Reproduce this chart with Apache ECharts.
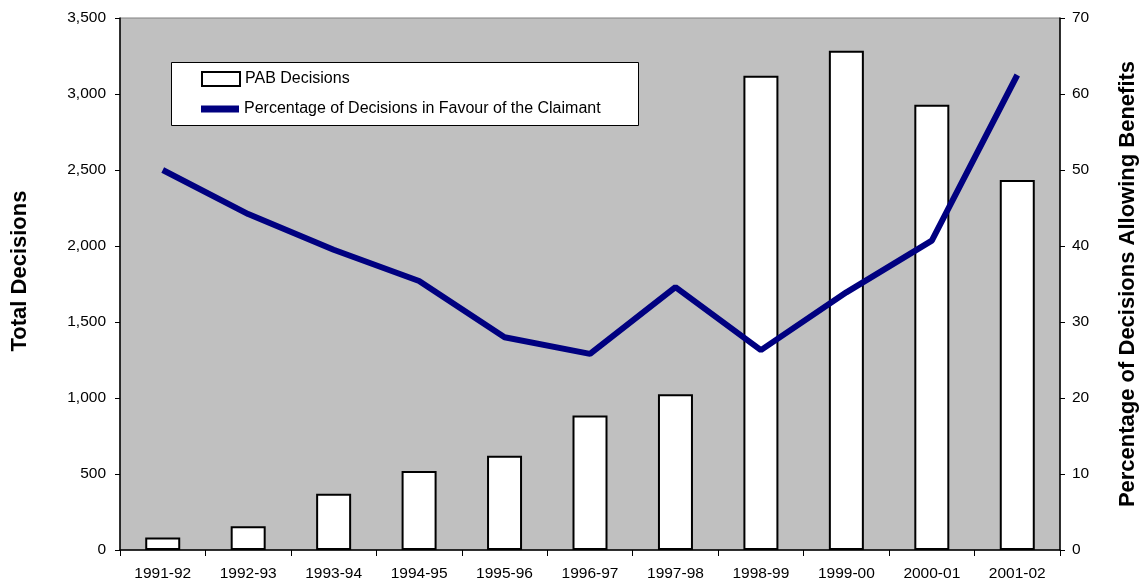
<!DOCTYPE html>
<html>
<head>
<meta charset="utf-8">
<script src="https://cdn.jsdelivr.net/npm/echarts@6/dist/echarts.min.js"></script>
<style>
  html, body { margin: 0; padding: 0; background: #fff; }
  #chart { width: 1139px; height: 582px; }
</style>
</head>
<body>
<div id="chart"></div>
<script>
const years = ["1991-92", "1992-93", "1993-94", "1994-95", "1995-96", "1996-97",
  "1997-98", "1998-99", "1999-00", "2000-01", "2001-02"];
const pabDecisions = [82, 157, 370, 520, 620, 885, 1025, 3120, 3285, 2930, 2435];
const pctFavour = [50.0, 44.2, 39.5, 35.4, 28.0, 25.8, 34.6, 26.3, 33.9, 40.7, 62.5];

var myChart = echarts.init(document.getElementById("chart"));

const font = "Arial, 'Liberation Sans', sans-serif";
const legendText = { fontSize: 16, fontFamily: font, color: "#000" };

let option = {
  animation: false,
  textStyle: { fontFamily: font, color: "#000" },
  grid: {
    left: 120,
    right: 79,
    top: 18,
    bottom: 32,
    outerBoundsMode: "none",
    containLabel: false,
    show: true,
    backgroundColor: "#c0c0c0",
    borderColor: "#808080",
    borderWidth: 1,
  },
  // white legend box
  graphic: [
    {
      type: "rect",
      left: 171,
      top: 62,
      z: 1,
      shape: { width: 467, height: 63 },
      style: { fill: "#fff", stroke: "#000", lineWidth: 1 },
    },
  ],
  legend: [
    {
      left: 201,
      top: 71,
      padding: 0,
      itemWidth: 38,
      itemHeight: 14,
      z: 5,
      textStyle: legendText,
      data: [{ name: "PAB Decisions", icon: "rect" }],
    },
    {
      left: 201,
      top: 101,
      padding: 0,
      itemWidth: 38,
      itemHeight: 7,
      z: 5,
      textStyle: legendText,
      data: [
        {
          name: "Percentage of Decisions in Favour of the Claimant",
          icon: "rect",
          itemStyle: { color: "#000080", borderWidth: 0 },
        },
      ],
    },
  ],
  xAxis: {
    type: "category",
    data: years,
    axisLine: { lineStyle: { color: "#000", width: 1.5 } },
    axisTick: { show: true, length: 6, inside: false, lineStyle: { color: "#000" } },
    axisLabel: { fontSize: 15.5, margin: 16, color: "#000" },
  },
  yAxis: [
    {
      type: "value",
      min: 0,
      max: 3500,
      interval: 500,
      name: "Total Decisions",
      nameLocation: "middle",
      nameGap: 89,
      nameRotate: 90,
      nameTextStyle: {
        fontSize: 22,
        fontWeight: "bold",
        color: "#000",
        padding: [0, 0, 0, 26],
      },
      axisLine: { show: true, lineStyle: { color: "#000", width: 1.5 } },
      axisTick: { show: true, length: 5, lineStyle: { color: "#000" } },
      axisLabel: {
        fontSize: 15.5,
        margin: 14,
        color: "#000",
        formatter: (v) => v.toLocaleString("en-US"),
      },
      splitLine: { show: false },
    },
    {
      type: "value",
      min: 0,
      max: 70,
      interval: 10,
      position: "right",
      name: "Percentage of Decisions Allowing Benefits",
      nameLocation: "middle",
      nameGap: 57,
      nameRotate: 90,
      nameTextStyle: { fontSize: 22, fontWeight: "bold", color: "#000" },
      axisLine: { show: true, lineStyle: { color: "#000", width: 1.5 } },
      axisTick: { show: true, length: 5, lineStyle: { color: "#000" } },
      axisLabel: { fontSize: 15.5, margin: 12, color: "#000" },
      splitLine: { show: false },
    },
  ],
  series: [
    {
      name: "PAB Decisions",
      type: "bar",
      yAxisIndex: 0,
      data: pabDecisions,
      barWidth: 35,
      itemStyle: { color: "#fff", borderColor: "#000", borderWidth: 2 },
    },
    {
      name: "Percentage of Decisions in Favour of the Claimant",
      type: "line",
      yAxisIndex: 1,
      data: pctFavour,
      symbol: "none",
      lineStyle: { color: "#000080", width: 6 },
      itemStyle: { color: "#000080" },
    },
  ],
};
myChart.setOption(option);
</script>
</body>
</html>
